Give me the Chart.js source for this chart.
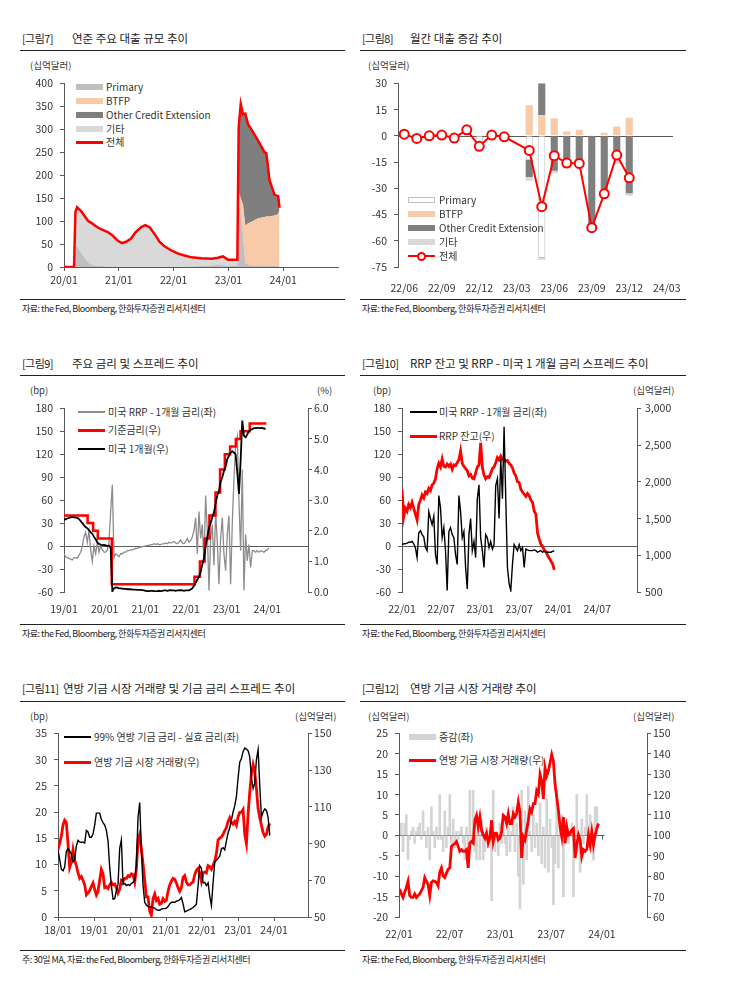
<!DOCTYPE html>
<html><head><meta charset="utf-8">
<script src="https://cdn.jsdelivr.net/npm/chart.js@4.4.0/dist/chart.umd.min.js"></script>
<style>
body{margin:0;background:#fff;}
#page{position:relative;width:745px;height:992px;background:#fff;font-family:'Noto Sans CJK KR','Noto Sans',sans-serif;color:#222;overflow:hidden;}
#page div{position:absolute;white-space:nowrap;}
.t{font-size:11.5px;line-height:14px;color:#222;}
.tb{font-size:11px;letter-spacing:-0.6px;}
.rule{height:1px;background:#222;}
.unit{font-size:9.5px;line-height:12px;color:#333;}
.src{font-size:9px;letter-spacing:-0.5px;line-height:12px;color:#222;}
.lg{font-size:10px;line-height:12px;color:#333;z-index:1;}
.sw{z-index:1;}
.top{z-index:3;}
canvas{position:absolute;z-index:2;}
</style></head><body><div id="page">
<canvas id="c7" width="325" height="225" style="left:20px;top:70px"></canvas>
<canvas id="c8" width="335" height="225" style="left:355px;top:70px"></canvas>
<canvas id="c9" width="325" height="225" style="left:20px;top:395px"></canvas>
<canvas id="c10" width="335" height="225" style="left:355px;top:395px"></canvas>
<canvas id="c11" width="330" height="225" style="left:15px;top:720px"></canvas>
<canvas id="c12" width="335" height="225" style="left:355px;top:720px"></canvas>
</div>
<script>
// ---------- 그림7: 연준 주요 대출 (월 = 20/01 기준 개월 수) ----------
const ticks7 = ['20/01', '21/01', '22/01', '23/01', '24/01'];
const x7 = [0, 2.2, 2.5, 2.85, 3.8, 4.5, 5.3, 6.0, 6.7, 7.4, 8.2, 9.6, 10.7, 11.8, 12.7, 13.6, 14.7, 15.6, 16.9, 17.8, 18.8, 19.9, 20.9, 22.0, 23.5, 25.0, 26.4, 27.9, 30.1, 32.3, 33.7, 34.8, 35.9, 37.96, 38.25, 38.7, 39.2, 39.7, 40.3, 41.0, 42.5, 43.9, 44.3, 45.0, 46.1, 46.9, 47.2];
const primary7 = [0, 0, 43, 45, 30, 20, 10, 5, 3, 2, 2, 1, 1, 1, 0.5, 0.5, 0.5, 0.5, 0.5, 0.5, 0.5, 0.5, 0.5, 0.5, 0.5, 0.5, 1, 1, 2, 3, 5, 4, 2, 2, 150, 110, 70, 10, 5, 3, 3, 3, 3, 2, 2, 2, 1];
const btfp7 = [0, 0, 0, 0, 0, 0, 0, 0, 0, 0, 0, 0, 0, 0, 0, 0, 0, 0, 0, 0, 0, 0, 0, 0, 0, 0, 0, 0, 0, 0, 0, 0, 0, 0, 12, 40, 65, 80, 90, 95, 103, 106, 107, 108, 110, 113, 125];
const other7 = [0, 0, 0, 0, 0, 0, 0, 0, 0, 0, 0, 0, 0, 0, 0, 0, 0, 0, 0, 0, 0, 0, 0, 0, 0, 0, 0, 0, 0, 0, 0, 0, 0, 0, 139, 202, 194, 241, 213, 199, 166, 138, 135, 76, 42, 36, 1];
const etc7 = [0, 0, 77, 85, 91, 91, 90, 91, 88, 84, 80, 75, 67, 56, 51.5, 54.5, 61.5, 74.5, 86.5, 90.5, 85.5, 70.5, 54.5, 44.5, 35.5, 28.5, 24, 20, 17, 15, 15, 19, 14, 14, 3, 3, 3, 3, 3, 3, 3, 3, 3, 3, 3, 3, 2];
const total7 = [0, 0, 120, 130, 121, 111, 100, 96, 91, 86, 82, 76, 68, 57, 52, 55, 62, 75, 87, 91, 86, 71, 55, 45, 36, 29, 25, 21, 19, 18, 20, 23, 16, 16, 304, 355, 332, 334, 311, 300, 275, 250, 248, 189, 157, 154, 129];

// ---------- 그림8: 월간 대출 증감 ----------
const months8 = ['22/06', '22/07', '22/08', '22/09', '22/10', '22/11', '22/12', '23/01', '23/02', '23/03', '23/04', '23/05', '23/06', '23/07', '23/08', '23/09', '23/10', '23/11', '23/12', '24/01', '24/02', '24/03'];
const total8 = [0.9, -1.5, 0, 0.4, -1.3, 3.4, -6, 0.4, -0.6, null, -8.4, -40.5, -11.4, -15.6, -15.8, -52.5, -33.2, -11, -24, null, null, null];
const primary8 = [null, null, null, null, null, null, -6, null, null, null, -13.7, -69.8, null, null, null, null, null, null, null, null, null, null];
const btfp8 = [null, null, null, null, null, null, null, null, null, null, 17.4, 11.8, 10, 2.4, 3.4, 0.5, 1.7, 5.3, 10.3, null, null, null];
const other8 = [null, null, null, null, null, null, null, null, null, null, -9.8, 18.2, -20, -16.5, -17.4, -51, -34, -13, -32.8, null, null, null];
const etc8 = [0.9, -1.5, 0, 0.4, -1.3, 3.4, null, 0.4, -0.6, null, -2.2, -1.1, -1.5, -1.5, -1.8, -2, -1, -3, -1.5, null, null, null];

// ---------- 그림9: 주요 금리 (19/01 기준 개월 수, 약 2주 간격 관측) ----------
const ticks9 = ['19/01', '20/01', '21/01', '22/01', '23/01', '24/01'];
const step9 = 0.4917;
const spread9 = [-10, -14, -15, -16, -17, -18, -15, -15, -16, -12,
  -8, 0, 12, 18, 5, 20, -5, -20, 0, -10,
  5, -8, 0, -5, -8, -8, -5, 5, 45, 80,
  -15, -10, -12, -14, -10, -10, -8, -8, -6, -6,
  -5, -5, -4, -3, -3, -2, -1, -1, 0, 0,
  1, 1, 2, 2, 3, 2, 3, 2, 2, 3,
  3, 4, 3, 5, 4, 5, 6, 4, 3, 5,
  8, 4, 3, 6, 10, 5, 7, 12, 20, 37,
  -10, 45, 10, 28, -20, 66, 20, -58, 10, 28,
  -25, 45, 5, -50, 10, 37, -10, -32, 15, 40,
  -50, 30, 88, 131, 143, 58, -6, 100, -58, 15,
  -19, 2, -28, -6, -6, -8, -6, -8, -6, -7,
  -8, -6, -5, -2];
const bill9 = [2.35, 2.38, 2.4, 2.42, 2.44, 2.45, 2.44, 2.43, 2.42, 2.38,
  2.32, 2.25, 2.18, 2.12, 2.08, 2.02, 1.95, 1.9, 1.8, 1.72,
  1.62, 1.57, 1.55, 1.53, 1.54, 1.52, 1.5, 1.52, 1.45, 0.02,
  0.12, 0.15, 0.14, 0.12, 0.12, 0.11, 0.1, 0.1, 0.09, 0.09,
  0.09, 0.08, 0.08, 0.08, 0.07, 0.07, 0.07, 0.06, 0.05, 0.04,
  0.03, 0.03, 0.04, 0.04, 0.03, 0.02, 0.03, 0.04, 0.03, 0.04,
  0.05, 0.05, 0.04, 0.05, 0.06, 0.05, 0.05, 0.04, 0.05, 0.05,
  0.06, 0.05, 0.04, 0.05, 0.05, 0.05, 0.08, 0.12, 0.2, 0.3,
  0.4, 0.5, 0.65, 0.9, 1.1, 1.5, 1.8, 2.1, 2.25, 2.45,
  2.6, 2.9, 3.15, 3.3, 3.6, 3.75, 3.95, 4.1, 4.35, 4.45,
  4.55, 4.6, 4.55, 4.5, 3.9, 3.2, 4.3, 5.6, 5.1, 5.05,
  5.15, 5.25, 5.3, 5.32, 5.35, 5.35, 5.36, 5.36, 5.35, 5.36,
  5.34, 5.33];
const policyX9 = [0, 6.97, 8.6, 9.97, 14.1, 38.5, 40.1, 41.5, 42.9, 44.7, 46.05, 47.45, 49.0, 50.7, 52.1, 54.8, 59.7];
const policy9 = [2.5, 2.25, 2.0, 1.75, 0.25, 0.5, 1.0, 1.75, 2.5, 3.25, 4.0, 4.5, 4.75, 5.0, 5.25, 5.5, 5.5];

// ---------- 그림10: RRP 잔고 (22/01 기준 개월 수, 약 1주 간격) ----------
const ticks10 = ['22/01', '22/07', '23/01', '23/07', '24/01', '24/07'];
const step10 = 0.2571;
const spread10 = [2, 3, 3, 4, 5, 5, 6, 3, -2, -15,
  17, 20, 15, 12, -2, -6, 45, 36, 28, 39,
  -11, -24, 66, 50, 11, 24, -6, -58, 19, 24,
  15, 11, -11, -24, 66, 45, 11, 19, -28, -56,
  15, 36, -6, 6, -15, 62, 80, 11, -6, -28,
  15, 11, -2, 6, -4, 2, 79, 88, 36, 114,
  62, 156, 62, -28, -49, -58, -24, 2, -2, -6,
  2, -6, -2, -28, -4, -5, -6, -6, -6, -5,
  -6, -8, -7, -6, -8, -7, -8, -8, -8, -8,
  -7, -6];
const rrp10 = [1900, 1520, 1640, 1600, 1690, 1650, 1720, 1640, 1560, 1480,
  1690, 1750, 1820, 1780, 1860, 1840, 1910, 1880, 1960, 1980,
  2040, 2180, 2250, 2200, 2310, 2210, 2200, 2240, 2210, 2240,
  2170, 2230, 2220, 2260, 2300, 2420, 2250, 2210, 2180, 2150,
  2080, 2100, 2050, 2040, 2120, 2200, 2230, 2530, 2200, 2090,
  2040, 2070, 2060, 2110, 2180, 2200, 2260, 2330, 2300, 2350,
  2300, 2310, 2280, 2290, 2250, 2230, 2190, 2120, 2080, 2000,
  1990, 1900, 1860, 1830, 1800, 1840, 1810, 1750, 1720, 1600,
  1560, 1300, 1220, 1150, 1120, 1070, 1050, 1000, 960, 920,
  880, 800];

// ---------- 그림11: 연방기금 거래량·스프레드 (18/01 기준 개월 수) ----------
const ticks11 = ['18/01', '19/01', '20/01', '21/01', '22/01', '23/01', '24/01'];
const step11 = 0.5556;
const spread11 = [12.8, 11.0, 9.1, 8.8, 9.5, 12.5, 13.0, 12.6, 12.0, 10.5,
  11.0, 13.5, 14.6, 14.3, 14.2, 14.3, 14.1, 16.5, 16.2, 15.2,
  15.2, 15.8, 17.5, 19.8, 19.8, 19.8, 18.6, 18.0, 17.5, 16.5,
  14.5, 9.5, 6.0, 3.4, 3.5, 5.0, 6.2, 13.1, 14.7, 6.2,
  6.4, 6.0, 6.2, 6.0, 6.4, 6.6, 7.0, 10.0, 19.0, 21.8,
  12.8, 6.0, 2.8, 2.3, 2.0, 1.9, 1.9, 1.8, 1.7, 1.4,
  1.3, 1.3, 1.5, 1.6, 1.6, 1.7, 2.0, 2.5, 2.8, 2.8,
  2.8, 3.0, 3.1, 3.3, 3.7, 2.5, 1.0, 1.1, 1.3, 1.4,
  1.6, 1.8, 2.1, 2.4, 6.0, 9.8, 9.3, 6.5, 6.6, 6.0,
  6.5, 4.0, 2.2, 6.5, 10.5, 10.8, 11.2, 11.6, 13.0, 13.2,
  12.8, 14.5, 16.0, 17.0, 18.5, 20.0, 21.2, 23.0, 26.5, 29.5,
  30.2, 31.5, 32.2, 32.0, 31.7, 30.5, 26.5, 24.5, 25.5, 30.0,
  31.9, 25.0, 19.0, 20.0, 20.6, 20.3, 19.0, 15.5];
const volume11 = [86.6, 90, 94, 100, 102.7, 101.5, 90, 77, 80, 86.6,
  81, 78, 74, 71, 72, 70, 67.5, 62, 63, 64.5,
  66.5, 68.5, 65, 62, 64, 70, 75.9, 73.5, 66, 66.5,
  65.5, 67.5, 68.8, 67.5, 67.9, 66, 63, 65, 70, 69.5,
  71, 71, 72.5, 72, 73.5, 73, 69, 76, 92, 95,
  87, 79, 70, 61, 61, 53, 51, 60, 62.5, 59,
  60, 57, 57.5, 60, 58.5, 59, 64, 67.5, 69.5, 71,
  70.5, 68.5, 66, 64, 66, 71.5, 72.5, 69, 67.5, 67.5,
  68.5, 69, 73, 75.5, 76.5, 74, 69.5, 74, 74.5, 74,
  78, 77.5, 76, 78, 80.5, 84.5, 92, 93, 93.5, 95,
  97, 98.7, 102, 104, 101.5, 100.5, 102, 100, 104.5, 107,
  107, 108.5, 95, 90, 106, 118, 128, 133, 129, 120,
  109, 104, 100, 96, 94, 95, 99, 101];

// ---------- 그림12: 연방기금 거래량 (22/01 기준 개월 수) ----------
const ticks12 = ['22/01', '22/07', '23/01', '23/07', '24/01'];
const step12 = 0.1976;
const volume12 = [73.7, 71.3, 69.6, 72.1, 74.5, 77.5, 70.5, 69.6, 69.6, 71.3,
  69.6, 70.5, 71.3, 72.9, 74.5, 79.3, 77.5, 76, 70.5, 76.9,
  77.7, 77.5, 76.9, 75.3, 82, 84.1, 80.1, 79.3, 81.5, 83.3,
  84.1, 94.6, 95.4, 96, 97, 94.6, 92.2, 93, 92.2, 92.2,
  93, 84.1, 96.2, 97, 96.2, 107.4, 109.8, 104.2, 109, 102.6,
  100.2, 98.6, 101, 96.2, 98.6, 107.4, 97, 101, 101, 97.8,
  98.6, 101.8, 109.8, 109, 105.8, 110.6, 105.8, 105.8, 110.6, 109,
  110.6, 116.3, 111.4, 88.9, 99.4, 97.8, 102.6, 107.4, 113, 111.4,
  115.5, 115.5, 121.9, 120.3, 129.9, 126.7, 117.9, 133.2, 129.1, 131.5,
  135.6, 139.6, 136.4, 125.1, 118.7, 112.3, 104.2, 99.4, 109, 96.2,
  104.2, 100.2, 101, 102.6, 103.4, 88.9, 95.4, 100.2, 97.8, 89.7,
  93, 92.2, 93, 100.2, 95.4, 101.8, 95.4, 100.2, 103.4, 105.8];
const change12 = [3, -4, 3, 5, -6, -1, 1, 2, -2, 1,
  2, 3, -1, 6, 1, -3, 2, -6, 7, 1,
  -3, 2, -1, 10, -1, -4, 6, -3, 2, 10,
  -2, 4, -3, 1, -1, 1, 2, -2, -6, 2,
  -8, 11, -2, 11, -4, -6, 3, -6, 4, -6,
  -4, 2, -3, 1, -16, 11, -4, 1, -5, 3,
  -2, 4, -2, -5, 2, -4, 1, 7, -4, 3,
  -10, -18, 11, -12, 6, -6, 12, 1, -4, 5,
  -3, 3, -5, 8, -7, 2, -8, 9, -9, 4,
  -3, -17, -7, 11, -8, 2, 5, -15, -2, 3,
  -2, 1, 3, -15, -4, 10, -4, -9, 4, -2,
  2, 10, -3, 5, -4, -6, 7, 7];

const RED = '#ff0000';
const AX = '#595959';

Chart.defaults.font.family = "'Noto Sans CJK KR','Noto Sans',sans-serif";
Chart.defaults.font.size = 10.5;
Chart.defaults.color = '#333';
Chart.defaults.animation = false;
Chart.defaults.responsive = false;
Chart.defaults.events = [];
Chart.defaults.plugins.legend.display = false;
Chart.defaults.plugins.tooltip.enabled = false;
Chart.defaults.elements.point.radius = 0;
Chart.defaults.elements.line.tension = 0;

const pts = (xs, ys) => ys.map((v, i) => ({x: xs[i], y: v}));
const seq = (start, step, ys) => ys.map((v, i) => ({x: start + i * step, y: v}));
const range = (a, b, s) => { const r = []; for (let v = a; v <= b + 1e-9; v += s) r.push(v); return r; };

function yAx(pos, min, max, ticks, w, pad, fmt) {
  return {
    position: pos, min: min, max: max,
    afterBuildTicks: s => { s.ticks = ticks.map(v => ({value: v})); },
    ticks: { padding: pad, callback: fmt || (v => String(v)) },
    border: { color: AX },
    grid: { drawOnChartArea: false, tickLength: 4, color: AX },
    afterFit: s => { s.width = w; }
  };
}

function xAx(min, max, ticks, labels, line) {
  return {
    type: 'linear', min: min, max: max, offset: false,
    afterBuildTicks: s => { s.ticks = ticks.map(v => ({value: v})); },
    ticks: { padding: line ? 3 : 7, maxRotation: 0, autoSkip: false, callback: (v, i) => labels[i] },
    border: { display: line, color: AX },
    grid: { display: line, drawOnChartArea: false, tickLength: 4, color: AX },
    afterFit: s => { s.height = 28; }
  };
}

// 0선 (필요하면 일부 구간만, 눈금 표시 포함)
const zeroLine = {
  id: 'zeroLine',
  beforeDatasetsDraw(chart, args, o) {
    const {ctx, chartArea: a, scales} = chart;
    const y = Math.round(scales.y.getPixelForValue(0)) + 0.5;
    const x2 = o.to != null ? scales.x.getPixelForValue(o.to) : a.right;
    ctx.save();
    ctx.strokeStyle = AX;
    ctx.lineWidth = 1;
    ctx.beginPath();
    ctx.moveTo(a.left, y);
    ctx.lineTo(x2, y);
    (o.marks || []).forEach(v => {
      const x = Math.round(scales.x.getPixelForValue(v)) + 0.5;
      ctx.moveTo(x, y);
      ctx.lineTo(x, y + 4);
    });
    ctx.stroke();
    ctx.restore();
  }
};

// 그림7
new Chart(document.getElementById('c7'), {
  type: 'line',
  data: { datasets: [
    { data: pts(x7, primary7), backgroundColor: '#bfbfbf', fill: 'origin', borderWidth: 0, stack: 's', order: 1 },
    { data: pts(x7, btfp7), backgroundColor: '#f9caa7', fill: '-1', borderWidth: 0, stack: 's', order: 1 },
    { data: pts(x7, other7), backgroundColor: '#7f7f7f', fill: '-1', borderWidth: 0, stack: 's', order: 1 },
    { data: pts(x7, etc7), backgroundColor: '#d9d9d9', fill: '-1', borderWidth: 0, stack: 's', order: 1 },
    { data: pts(x7, total7), borderColor: RED, borderWidth: 2.5, fill: false, stack: 't', order: 0 }
  ]},
  options: {
    layout: { padding: { top: 10, right: 7 } },
    scales: {
      x: xAx(0, 60, [0, 12, 24, 36, 48], ticks7, true),
      y: Object.assign(yAx('left', 0, 400, range(0, 400, 50), 44, 7), { stacked: true })
    }
  }
});

// 그림8
new Chart(document.getElementById('c8'), {
  type: 'bar',
  data: { labels: months8, datasets: [
    { type: 'line', data: total8, borderColor: RED, borderWidth: 2, pointRadius: 4.5, pointBackgroundColor: '#fff',
      pointBorderColor: RED, pointBorderWidth: 2, spanGaps: true, stack: 'line', order: -1 },
    { data: primary8, backgroundColor: '#ffffff', borderColor: '#bfbfbf', borderWidth: 1, stack: 'b' },
    { data: btfp8, backgroundColor: '#f9caa7', stack: 'b' },
    { data: other8, backgroundColor: '#7f7f7f', stack: 'b' },
    { data: etc8, backgroundColor: '#d9d9d9', stack: 'b' }
  ]},
  options: {
    layout: { padding: { top: 10, right: 17 } },
    datasets: { bar: { barPercentage: 0.57, categoryPercentage: 1 } },
    scales: {
      x: { type: 'category', offset: true, stacked: true,
        afterBuildTicks: s => { s.ticks = s.ticks.filter((t, i) => i % 3 === 0); },
        ticks: { padding: 7, maxRotation: 0, autoSkip: false },
        border: { display: false }, grid: { display: false },
        afterFit: s => { s.height = 28; } },
      y: Object.assign(yAx('left', -75, 30, range(-75, 30, 15), 43, 7), { stacked: true })
    }
  },
  plugins: [zeroLine]
});

// 그림9
new Chart(document.getElementById('c9'), {
  type: 'line',
  data: { datasets: [
    { data: seq(0, step9, spread9), borderColor: '#8c8c8c', borderWidth: 1.3, yAxisID: 'y', order: 3 },
    { data: pts(policyX9, policy9), borderColor: RED, borderWidth: 2.5, stepped: true, yAxisID: 'y1', order: 2 },
    { data: seq(0, step9, bill9), borderColor: '#000', borderWidth: 1.8, yAxisID: 'y1', order: 1 }
  ]},
  options: {
    layout: { padding: { top: 10 } },
    scales: {
      x: xAx(0, 72, range(0, 60, 12), ticks9, false),
      y: yAx('left', -60, 180, range(-60, 180, 30), 44, 7),
      y1: yAx('right', 0, 6, range(0, 6, 1), 37, 2, v => v.toFixed(1))
    }
  },
  plugins: [zeroLine]
});

// 그림10
new Chart(document.getElementById('c10'), {
  type: 'line',
  data: { datasets: [
    { data: seq(0, step10, spread10), borderColor: '#000', borderWidth: 1.4, yAxisID: 'y', order: 1 },
    { data: seq(0, step10, rrp10), borderColor: RED, borderWidth: 2.8, yAxisID: 'y1', order: 2 }
  ]},
  options: {
    layout: { padding: { top: 10 } },
    scales: {
      x: xAx(0, 36.1, range(0, 30, 6), ticks10, false),
      y: yAx('left', -60, 180, range(-60, 180, 30), 47, 7),
      y1: yAx('right', 500, 3000, range(500, 3000, 500), 53, 4, v => v.toLocaleString('en-US'))
    }
  },
  plugins: [zeroLine]
});

// 그림11
new Chart(document.getElementById('c11'), {
  type: 'line',
  data: { datasets: [
    { data: seq(0, step11, spread11), borderColor: '#000', borderWidth: 1.4, yAxisID: 'y', order: 1 },
    { data: seq(0, step11, volume11), borderColor: RED, borderWidth: 2.8, yAxisID: 'y1', order: 2 }
  ]},
  options: {
    layout: { padding: { top: 10 } },
    scales: {
      x: xAx(0, 83.3, range(0, 72, 12), ticks11, true),
      y: yAx('left', 0, 35, range(0, 35, 5), 43, 7),
      y1: yAx('right', 50, 150, range(50, 150, 20), 37, 2)
    }
  }
});

// 그림12
new Chart(document.getElementById('c12'), {
  type: 'line',
  data: { datasets: [
    { type: 'bar', data: seq(0.277, step12, change12), backgroundColor: '#d4d4d4', barThickness: 2, yAxisID: 'y', order: 2 },
    { data: seq(0.079, step12, volume12), borderColor: RED, borderWidth: 2.8, yAxisID: 'y1', order: 1 }
  ]},
  options: {
    layout: { padding: { top: 10 } },
    plugins: { zeroLine: { to: 24.3, marks: [0, 6, 12, 18, 24] } },
    scales: {
      x: xAx(0, 29.33, range(0, 24, 6), ticks12, false),
      y: yAx('left', -20, 25, range(-20, 25, 5), 44, 7),
      y1: yAx('right', 60, 150, range(60, 150, 10), 43, 2)
    }
  },
  plugins: [zeroLine]
});

// ---------- 텍스트 / 범례 ----------
const page = document.getElementById('page');
function el(cls, x, y, text, css) {
  const e = document.createElement('div');
  if (cls) e.className = cls;
  e.style.left = x + 'px';
  e.style.top = y + 'px';
  if (css) Object.assign(e.style, css);
  if (text) e.textContent = text;
  page.appendChild(e);
  return e;
}
const SRC = '자료: the Fed, Bloomberg, 한화투자증권 리서치센터';
[
  [22, 31, '[그림7]', 1], [72, 31, '연준 주요 대출 규모 추이'],
  [362, 31, '[그림8]', 1], [410, 31, '월간 대출 증감 추이'],
  [22, 356, '[그림9]', 1], [72, 356, '주요 금리 및 스프레드 추이'],
  [362, 356, '[그림10]', 1], [410, 356, 'RRP 잔고 및 RRP - 미국 1 개월 금리 스프레드 추이'],
  [22, 681, '[그림11]', 1], [63, 681, '연방 기금 시장 거래량 및 기금 금리 스프레드 추이'],
  [362, 681, '[그림12]', 1], [410, 681, '연방 기금 시장 거래량 추이']
].forEach(t => el(t[3] ? 't tb' : 't', t[0], t[1], t[2]));
[[20, 50, 325], [360, 50, 326], [20, 375, 325], [360, 375, 326], [20, 701, 325], [360, 701, 326],
 [20, 299, 325], [360, 299, 326], [20, 624, 325], [360, 624, 326], [20, 950, 325], [360, 950, 326]]
  .forEach(r => el('rule', r[0], r[1], '', { width: r[2] + 'px' }));
[[22, 303, SRC], [362, 303, SRC], [22, 628, SRC], [362, 628, SRC],
 [22, 954, '주: 30일 MA, ' + SRC], [362, 954, SRC]].forEach(s => el('src', s[0], s[1], s[2]));
[[30, 59, '(십억달러)'], [368, 59, '(십억달러)'], [30, 384, '(bp)'], [317, 384, '(%)'],
 [373, 384, '(bp)'], [633, 384, '(십억달러)'], [30, 710, '(bp)'], [295, 710, '(십억달러)'],
 [368, 710, '(십억달러)'], [633, 710, '(십억달러)']].forEach(u => el('unit', u[0], u[1], u[2]));

function legend(x, tx, rows, above) {
  const z = above ? ' top' : '';
  rows.forEach(r => {
    const [yc, label, kind, color, extra] = r;
    if (kind === 'box') {
      el('sw' + z, x, yc - 3, '', { width: '27px', height: '6px', background: color, boxSizing: 'border-box',
        border: extra ? '1px solid ' + extra : 'none' });
    } else {
      const h = extra;
      el('sw' + z, x, yc - h / 2, '', { width: '27px', height: h + 'px', background: color });
      if (kind === 'marker') {
        el('sw' + z, x + 9, yc - 4.5, '', { width: '9px', height: '9px', borderRadius: '50%', background: '#fff',
          border: '2px solid ' + color, boxSizing: 'border-box' });
      }
    }
    el('lg' + z, tx, yc - 6.5, label);
  });
}
legend(76, 106, [[87, 'Primary', 'box', '#bfbfbf'], [101, 'BTFP', 'box', '#f9caa7'],
  [115, 'Other Credit Extension', 'box', '#7f7f7f'], [129, '기타', 'box', '#d9d9d9'], [142, '전체', 'line', RED, 3]]);
legend(408, 439, [[200, 'Primary', 'box', '#ffffff', '#bfbfbf'], [214, 'BTFP', 'box', '#f9caa7'],
  [228, 'Other Credit Extension', 'box', '#7f7f7f'], [242, '기타', 'box', '#d9d9d9'], [256, '전체', 'marker', RED, 2]], true);
legend(78, 108, [[412, '미국 RRP - 1개월 금리(좌)', 'line', '#8c8c8c', 1.5], [430, '기준금리(우)', 'line', RED, 3],
  [449, '미국 1개월(우)', 'line', '#000', 2]]);
legend(410, 439, [[412, '미국 RRP - 1개월 금리(좌)', 'line', '#000', 1.5], [436, 'RRP 잔고(우)', 'line', RED, 3]]);
legend(64, 94, [[737, '99% 연방 기금 금리 - 실효 금리(좌)', 'line', '#000', 1.5], [762, '연방 기금 시장 거래량(우)', 'line', RED, 3]]);
legend(409, 439, [[737, '증감(좌)', 'box', '#d4d4d4'], [760, '연방 기금 시장 거래량(우)', 'line', RED, 3]]);
</script></body></html>
